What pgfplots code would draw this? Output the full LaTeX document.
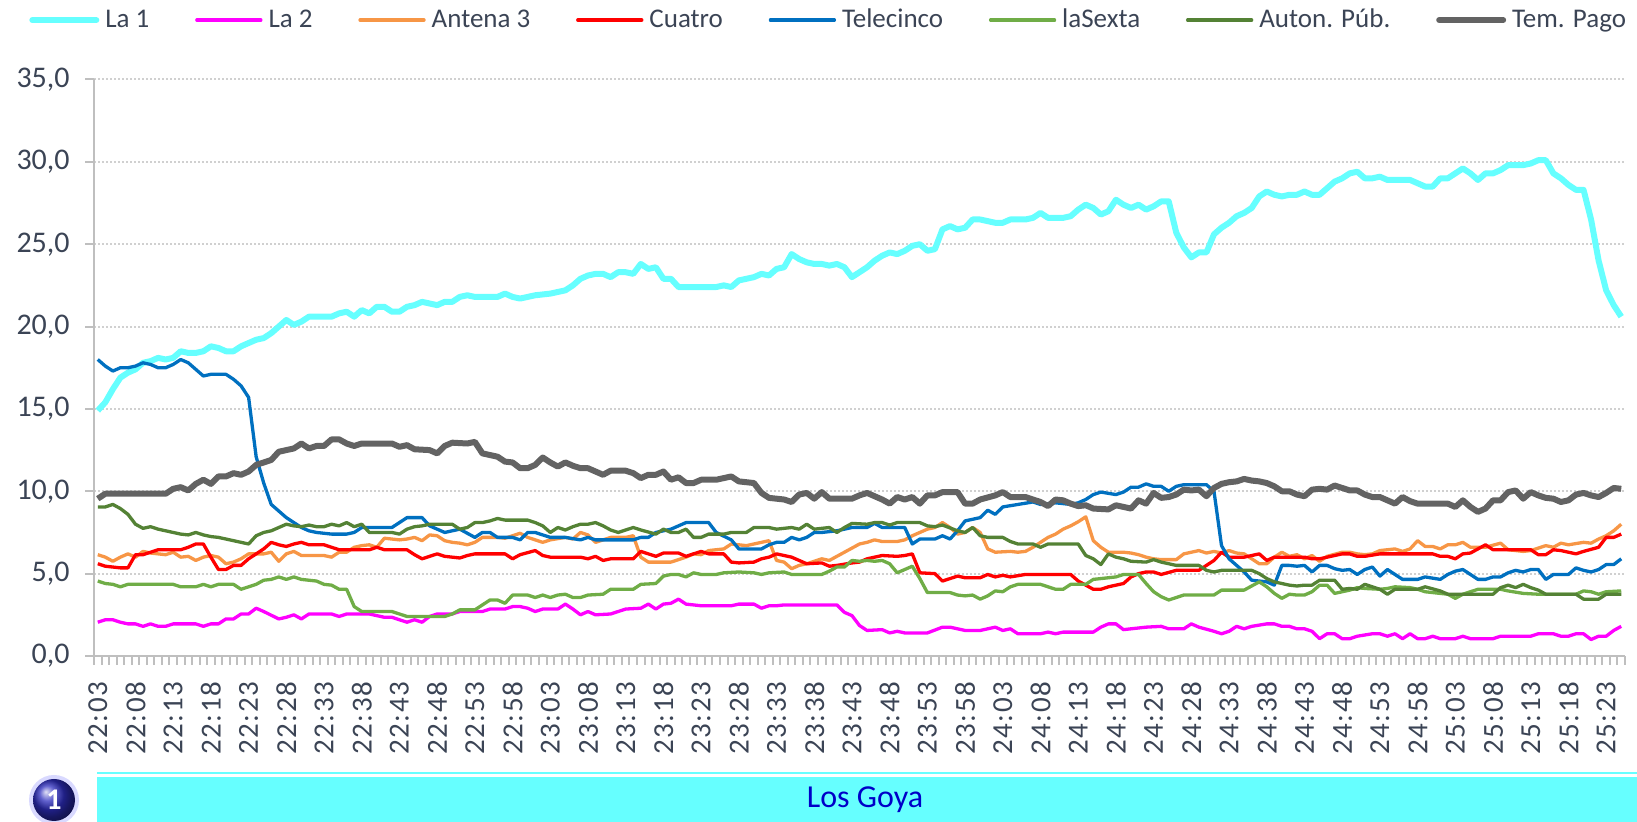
\documentclass[border=0pt]{standalone}
\usepackage{fontspec}
\setmainfont{Carlito}
\usepackage{pgfplots}
\pgfplotsset{compat=1.18}
\definecolor{txt}{HTML}{3B4455}
\definecolor{cLaA}{HTML}{66FFFF}
\definecolor{cLaB}{HTML}{FF00FF}
\definecolor{cAnt}{HTML}{F79646}
\definecolor{cCua}{HTML}{FF0000}
\definecolor{cTel}{HTML}{0070C0}
\definecolor{cSex}{HTML}{70AD47}
\definecolor{cAut}{HTML}{548235}
\definecolor{cPag}{HTML}{636363}
\definecolor{axgray}{HTML}{BFBFBF}
\definecolor{gridgray}{HTML}{D0D0D0}
\begin{document}
\begin{tikzpicture}[x=1pt,y=1pt]
\useasboundingbox (0,0) rectangle (818.5,411);
\begin{axis}[
  at={(47pt,83pt)}, anchor=south west,
  scale only axis, width=765.5pt, height=288.25pt,
  xmin=-0.5, xmax=202.5, ymin=0, ymax=35,
  axis x line*=bottom, axis y line*=left,
  axis line style={draw=axgray, line width=1pt},
  xtick={0,5,...,200},
  xticklabels={22:03,22:08,22:13,22:18,22:23,22:28,22:33,22:38,22:43,22:48,22:53,22:58,23:03,23:08,23:13,23:18,23:23,23:28,23:33,23:38,23:43,23:48,23:53,23:58,24:03,24:08,24:13,24:18,24:23,24:28,24:33,24:38,24:43,24:48,24:53,24:58,25:03,25:08,25:13,25:18,25:23},
  minor xtick={-0.5,0.5,...,202.5},
  major x tick style={draw=none},
  tick align=outside,
  major tick length=4.5pt, minor tick length=4.5pt,
  tick style={draw=axgray, line width=1pt},
  ytick={0,5,...,35},
  ymajorgrids,
  grid style={draw=gridgray, dash pattern=on 1pt off 1pt, line width=1pt},
  /pgf/number format/.cd, fixed, fixed zerofill, precision=1, use comma, assume math mode=true,
  /pgfplots/.cd,
  ticklabel style={font=\fontsize{15}{17}\selectfont, text=txt},
  xticklabel style={yshift=-8pt, rotate=90, anchor=east, inner sep=0pt, font=\fontsize{14.5}{17}\selectfont\addfontfeatures{LetterSpace=6}},
  yticklabel style={anchor=east, inner sep=0pt, xshift=-7.5pt},
  legend style={at={(-0.0425,1.103)}, anchor=west, draw=none, fill=none, inner sep=0pt,
    legend columns=-1, font=\fontsize{13.5}{16}\selectfont, text=txt,
    nodes={inner sep=1pt},
    /tikz/every odd column/.append style={column sep=2pt},
    /tikz/every even column/.append style={column sep=21.9pt}},
  legend cell align=left,
  legend image code/.code={\draw[#1, line cap=round] (0pt,0pt) -- (32pt,0pt);},
  every axis plot/.append style={no markers, line join=round, line width=1.65pt},
]
\addplot[cLaA, line width=3pt] coordinates {(0,14.9)(1,15.4)(2,16.2)(3,16.9)(4,17.2)(5,17.4)(6,17.8)(7,17.9)(8,18.1)(9,18.0)(10,18.1)(11,18.5)(12,18.4)(13,18.4)(14,18.5)(15,18.8)(16,18.7)(17,18.5)(18,18.5)(19,18.8)(20,19.0)(21,19.2)(22,19.3)(23,19.6)(24,20.0)(25,20.4)(26,20.1)(27,20.3)(28,20.6)(31,20.6)(32,20.8)(33,20.9)(34,20.6)(35,21.0)(36,20.8)(37,21.2)(38,21.2)(39,20.9)(40,20.9)(41,21.2)(42,21.3)(43,21.5)(44,21.4)(45,21.3)(46,21.5)(47,21.5)(48,21.8)(49,21.9)(50,21.8)(53,21.8)(54,22.0)(55,21.8)(56,21.7)(58,21.9)(60,22.0)(61,22.1)(62,22.2)(63,22.5)(64,22.9)(65,23.1)(66,23.2)(67,23.2)(68,23.0)(69,23.3)(70,23.3)(71,23.2)(72,23.8)(73,23.5)(74,23.6)(75,22.9)(76,22.9)(77,22.4)(82,22.4)(83,22.5)(84,22.4)(85,22.8)(86,22.9)(87,23.0)(88,23.2)(89,23.1)(90,23.5)(91,23.6)(92,24.4)(93,24.1)(94,23.9)(95,23.8)(96,23.8)(97,23.7)(98,23.8)(99,23.6)(100,23.0)(101,23.3)(102,23.6)(103,24.0)(104,24.3)(105,24.5)(106,24.4)(107,24.6)(108,24.9)(109,25.0)(110,24.6)(111,24.7)(112,25.9)(113,26.1)(114,25.9)(115,26.0)(116,26.5)(117,26.5)(118,26.4)(119,26.3)(120,26.3)(121,26.5)(123,26.5)(124,26.6)(125,26.9)(126,26.6)(128,26.6)(129,26.7)(130,27.1)(131,27.4)(132,27.2)(133,26.8)(134,27.0)(135,27.7)(136,27.4)(137,27.2)(138,27.4)(139,27.1)(140,27.3)(141,27.6)(142,27.6)(143,25.7)(144,24.8)(145,24.2)(146,24.5)(147,24.5)(148,25.6)(149,26.0)(150,26.3)(151,26.7)(152,26.9)(153,27.2)(154,27.9)(155,28.2)(156,28.0)(157,27.9)(158,28.0)(159,28.0)(160,28.2)(161,28.0)(162,28.0)(163,28.4)(164,28.8)(165,29.0)(166,29.3)(167,29.4)(168,29.0)(169,29.0)(170,29.1)(171,28.9)(174,28.9)(175,28.7)(176,28.5)(177,28.5)(178,29.0)(179,29.0)(180,29.3)(181,29.6)(182,29.3)(183,28.9)(184,29.3)(185,29.3)(186,29.5)(187,29.8)(189,29.8)(190,29.9)(191,30.1)(192,30.1)(193,29.3)(194,29.0)(195,28.6)(196,28.3)(197,28.3)(198,26.5)(199,24.0)(200,22.2)(201,21.3)(202,20.6)};
\addlegendentry{La 1}
\addplot[cLaB] coordinates {(0,2.05)(1,2.2)(2,2.2)(3,2.05)(4,1.95)(5,1.95)(6,1.8)(7,1.95)(8,1.8)(9,1.8)(10,1.95)(13,1.95)(14,1.8)(15,1.95)(16,1.95)(17,2.25)(18,2.25)(19,2.55)(20,2.55)(21,2.9)(22,2.7)(24,2.25)(25,2.35)(26,2.5)(27,2.25)(28,2.55)(31,2.55)(32,2.4)(33,2.55)(36,2.55)(38,2.35)(39,2.35)(41,2.05)(42,2.2)(43,2.05)(44,2.4)(45,2.55)(47,2.55)(48,2.7)(51,2.7)(52,2.85)(54,2.85)(55,3.0)(56,3.0)(57,2.9)(58,2.7)(59,2.85)(61,2.85)(62,3.15)(63,2.85)(64,2.5)(65,2.7)(66,2.5)(68,2.55)(69,2.7)(70,2.85)(72,2.9)(73,3.15)(74,2.85)(75,3.15)(76,3.2)(77,3.45)(78,3.15)(80,3.05)(84,3.05)(85,3.15)(87,3.15)(88,2.9)(89,3.05)(90,3.05)(91,3.1)(98,3.1)(99,2.65)(100,2.45)(101,1.85)(102,1.55)(104,1.6)(105,1.4)(106,1.5)(107,1.4)(110,1.4)(112,1.75)(113,1.75)(115,1.55)(117,1.55)(119,1.75)(120,1.55)(121,1.65)(122,1.35)(125,1.35)(126,1.45)(127,1.35)(128,1.45)(132,1.45)(133,1.75)(134,1.95)(135,1.95)(136,1.6)(138,1.7)(139,1.75)(141,1.8)(142,1.65)(144,1.65)(145,1.95)(146,1.75)(148,1.5)(149,1.35)(150,1.5)(151,1.8)(152,1.65)(153,1.8)(155,1.95)(156,1.95)(157,1.8)(158,1.8)(159,1.65)(160,1.65)(161,1.5)(162,1.05)(163,1.35)(164,1.35)(165,1.05)(166,1.05)(167,1.2)(169,1.35)(170,1.35)(171,1.2)(172,1.35)(173,1.05)(174,1.35)(175,1.05)(176,1.05)(177,1.2)(178,1.05)(180,1.05)(181,1.2)(182,1.05)(185,1.05)(186,1.2)(190,1.2)(191,1.35)(193,1.35)(194,1.2)(195,1.2)(196,1.35)(197,1.35)(198,1.0)(199,1.2)(200,1.2)(201,1.55)(202,1.8)};
\addlegendentry{La 2}
\addplot[cAnt] coordinates {(0,6.15)(1,6.0)(2,5.75)(3,6.0)(4,6.2)(5,6.0)(6,6.35)(7,6.25)(9,6.15)(10,6.3)(11,6.0)(12,6.05)(13,5.8)(14,6.0)(15,6.1)(16,6.0)(17,5.6)(18,5.7)(19,5.9)(20,6.2)(22,6.2)(23,6.3)(24,5.75)(25,6.2)(26,6.35)(27,6.1)(30,6.1)(31,6.0)(32,6.3)(33,6.3)(34,6.6)(35,6.7)(36,6.75)(37,6.6)(38,7.15)(40,7.05)(41,7.1)(42,7.2)(43,7.0)(44,7.35)(45,7.3)(46,7.0)(47,6.9)(48,6.85)(49,6.75)(50,6.9)(51,7.2)(53,7.2)(54,7.15)(55,7.3)(56,7.45)(57,7.2)(58,7.05)(59,6.9)(60,7.05)(62,7.2)(63,7.1)(64,7.5)(65,7.35)(66,6.9)(68,7.2)(70,7.2)(71,7.3)(72,6.0)(73,5.7)(76,5.7)(78,6.0)(79,6.2)(80,6.15)(81,6.4)(83,6.5)(84,6.8)(86,6.7)(87,6.8)(88,6.9)(89,7.0)(90,5.8)(91,5.7)(92,5.3)(93,5.5)(94,5.6)(96,5.9)(97,5.8)(98,6.05)(99,6.3)(100,6.55)(101,6.8)(102,6.9)(103,7.05)(104,6.95)(106,6.95)(107,7.05)(108,7.3)(109,7.5)(110,7.7)(111,7.8)(112,8.1)(113,7.8)(114,7.4)(115,7.5)(116,7.8)(117,7.5)(118,6.5)(119,6.3)(121,6.35)(122,6.3)(123,6.35)(124,6.6)(125,6.9)(126,7.2)(127,7.4)(128,7.7)(129,7.9)(130,8.15)(131,8.45)(132,7.0)(133,6.6)(134,6.3)(136,6.3)(137,6.25)(138,6.15)(139,6.0)(140,5.9)(141,5.85)(143,5.85)(144,6.2)(146,6.4)(147,6.25)(148,6.35)(149,6.25)(150,6.4)(151,6.25)(152,6.2)(153,5.9)(154,5.6)(155,5.6)(156,6.0)(157,6.3)(158,6.05)(159,6.15)(160,5.9)(161,6.1)(162,5.75)(163,6.05)(165,6.3)(166,6.3)(167,6.2)(168,6.15)(169,6.2)(170,6.4)(172,6.5)(173,6.35)(174,6.5)(175,7.0)(176,6.65)(177,6.65)(178,6.5)(179,6.75)(180,6.75)(181,6.9)(182,6.6)(184,6.6)(186,6.85)(187,6.45)(189,6.35)(190,6.4)(192,6.7)(193,6.6)(194,6.85)(195,6.75)(197,6.9)(198,6.85)(199,7.1)(200,7.3)(201,7.6)(202,8.0)};
\addlegendentry{Antena 3}
\addplot[cCua] coordinates {(0,5.6)(1,5.45)(2,5.4)(3,5.35)(4,5.35)(5,6.15)(6,6.15)(7,6.3)(8,6.45)(11,6.45)(12,6.6)(13,6.8)(14,6.8)(15,6.0)(16,5.25)(17,5.25)(18,5.5)(19,5.5)(20,5.9)(21,6.2)(22,6.5)(23,6.9)(24,6.75)(25,6.65)(26,6.8)(27,6.9)(28,6.75)(30,6.75)(31,6.6)(32,6.45)(36,6.45)(37,6.6)(38,6.45)(41,6.45)(42,6.15)(43,5.9)(45,6.2)(46,6.05)(48,5.95)(49,6.1)(50,6.2)(54,6.2)(55,5.9)(56,6.15)(58,6.4)(59,6.1)(60,6.0)(64,6.0)(65,5.9)(66,6.05)(67,5.8)(68,5.9)(71,5.9)(72,6.35)(73,6.2)(74,6.05)(75,6.25)(77,6.25)(78,6.05)(79,6.2)(80,6.35)(81,6.2)(83,6.2)(84,5.7)(85,5.65)(87,5.7)(88,5.9)(89,6.0)(90,6.2)(92,6.0)(93,5.8)(94,5.6)(96,5.65)(97,5.45)(98,5.5)(100,5.65)(101,5.7)(102,5.9)(103,6.0)(104,6.1)(106,6.05)(107,6.1)(108,6.2)(109,5.05)(111,5.0)(112,4.55)(113,4.7)(114,4.85)(115,4.75)(117,4.75)(118,4.95)(119,4.8)(120,4.9)(121,4.8)(123,4.95)(129,4.95)(130,4.55)(131,4.3)(132,4.05)(133,4.05)(134,4.2)(135,4.3)(136,4.4)(137,4.8)(138,5.0)(139,5.1)(140,5.1)(141,4.95)(143,5.2)(146,5.2)(147,5.5)(148,5.8)(149,6.3)(150,6.0)(152,6.0)(153,6.1)(154,6.2)(155,5.8)(156,6.0)(160,6.0)(161,5.9)(162,5.9)(163,6.0)(164,6.1)(165,6.2)(166,6.2)(167,6.05)(168,6.05)(170,6.2)(177,6.2)(178,6.05)(179,6.05)(180,5.9)(181,6.2)(182,6.25)(184,6.75)(185,6.45)(190,6.45)(191,6.15)(192,6.15)(193,6.45)(194,6.4)(196,6.2)(197,6.35)(199,6.6)(200,7.2)(201,7.2)(202,7.4)};
\addlegendentry{Cuatro}
\addplot[cTel] coordinates {(0,18.0)(1,17.6)(2,17.3)(3,17.5)(4,17.5)(5,17.6)(6,17.8)(7,17.7)(8,17.5)(9,17.5)(10,17.7)(11,18.0)(12,17.8)(13,17.4)(14,17.0)(15,17.1)(17,17.1)(18,16.8)(19,16.4)(20,15.7)(21,12.1)(22,10.5)(23,9.2)(24,8.8)(25,8.4)(26,8.1)(27,7.8)(28,7.6)(29,7.5)(31,7.4)(33,7.4)(34,7.5)(35,7.8)(39,7.8)(41,8.4)(43,8.4)(44,7.9)(45,7.7)(46,7.5)(47,7.6)(48,7.7)(50,7.2)(51,7.5)(52,7.5)(53,7.2)(55,7.2)(56,7.05)(57,7.5)(58,7.5)(60,7.2)(62,7.2)(64,7.05)(65,7.2)(66,7.05)(71,7.05)(72,7.2)(73,7.2)(74,7.5)(76,7.7)(78,8.1)(81,8.1)(82,7.5)(84,7.05)(85,6.5)(88,6.5)(89,6.75)(90,6.9)(91,6.9)(92,7.2)(93,7.05)(94,7.2)(95,7.5)(96,7.5)(98,7.6)(100,7.8)(102,7.8)(103,8.05)(104,7.8)(107,7.8)(108,6.8)(109,7.1)(111,7.1)(112,7.3)(113,7.1)(114,7.6)(115,8.2)(117,8.4)(118,8.85)(119,8.6)(120,9.05)(122,9.2)(124,9.35)(125,9.2)(127,9.3)(129,9.2)(130,9.3)(131,9.5)(132,9.8)(133,9.95)(135,9.8)(136,9.95)(137,10.25)(138,10.25)(139,10.45)(140,10.3)(141,10.3)(142,10.0)(143,10.3)(144,10.4)(145,10.4)(147,10.4)(148,10.0)(149,6.7)(150,5.9)(151,5.5)(152,5.1)(153,4.6)(155,4.5)(156,4.3)(157,5.5)(158,5.5)(159,5.45)(160,5.5)(161,5.1)(162,5.5)(163,5.5)(164,5.3)(165,5.2)(166,5.25)(167,4.95)(168,5.25)(169,5.4)(170,4.85)(171,5.25)(172,4.95)(173,4.65)(175,4.65)(176,4.8)(178,4.65)(179,4.95)(180,5.15)(181,5.25)(182,4.95)(183,4.65)(184,4.65)(185,4.8)(186,4.8)(187,5.05)(188,5.2)(189,5.1)(190,5.25)(191,5.25)(192,4.65)(193,4.95)(195,4.95)(196,5.35)(197,5.2)(198,5.1)(199,5.25)(200,5.55)(201,5.55)(202,5.9)};
\addlegendentry{Telecinco}
\addplot[cSex] coordinates {(0,4.55)(1,4.4)(2,4.35)(3,4.2)(4,4.35)(10,4.35)(11,4.2)(13,4.2)(14,4.35)(15,4.2)(16,4.35)(18,4.35)(19,4.05)(20,4.2)(21,4.35)(22,4.6)(23,4.65)(24,4.8)(25,4.65)(26,4.8)(27,4.65)(29,4.55)(30,4.35)(31,4.3)(32,4.05)(33,4.05)(34,3.0)(35,2.7)(39,2.7)(40,2.55)(41,2.4)(46,2.4)(47,2.55)(48,2.8)(50,2.8)(51,3.1)(52,3.4)(53,3.4)(54,3.2)(55,3.7)(57,3.7)(58,3.55)(59,3.7)(60,3.55)(61,3.7)(62,3.75)(63,3.55)(64,3.55)(65,3.7)(67,3.75)(68,4.05)(71,4.05)(72,4.35)(74,4.4)(75,4.85)(76,4.95)(77,4.95)(78,4.8)(79,5.05)(80,4.95)(82,4.95)(83,5.05)(85,5.1)(87,5.05)(88,4.95)(89,5.05)(91,5.1)(92,4.95)(96,4.95)(97,5.15)(98,5.4)(99,5.4)(100,5.8)(101,5.75)(102,5.8)(103,5.75)(104,5.8)(105,5.6)(106,5.05)(107,5.25)(108,5.45)(109,4.7)(110,3.85)(113,3.85)(114,3.7)(115,3.65)(116,3.7)(117,3.45)(118,3.65)(119,3.95)(120,3.9)(121,4.2)(122,4.35)(125,4.35)(126,4.2)(127,4.05)(128,4.05)(129,4.35)(131,4.35)(132,4.65)(135,4.8)(136,4.95)(138,4.95)(139,4.4)(140,3.9)(141,3.6)(142,3.4)(143,3.55)(144,3.7)(148,3.7)(149,4.0)(152,4.0)(153,4.25)(154,4.5)(155,4.2)(156,3.8)(157,3.5)(158,3.75)(159,3.7)(160,3.7)(161,3.9)(162,4.3)(163,4.3)(164,3.8)(165,3.9)(166,4.0)(167,4.15)(168,4.1)(170,4.05)(171,4.1)(172,4.2)(174,4.15)(175,4.05)(176,3.9)(178,3.8)(179,3.75)(180,3.5)(181,3.75)(182,3.9)(183,4.05)(186,4.05)(187,3.95)(189,3.8)(191,3.75)(196,3.75)(197,3.95)(198,3.9)(199,3.75)(200,3.9)(202,3.95)};
\addlegendentry{laSexta}
\addplot[cAut] coordinates {(0,9.05)(1,9.05)(2,9.2)(3,8.95)(4,8.6)(5,8.0)(6,7.75)(7,7.85)(8,7.7)(9,7.6)(10,7.5)(11,7.4)(12,7.35)(13,7.5)(14,7.35)(15,7.25)(16,7.2)(17,7.1)(18,7.0)(19,6.9)(20,6.8)(21,7.3)(22,7.5)(23,7.6)(24,7.8)(25,8.0)(26,7.9)(27,7.85)(28,7.95)(29,7.85)(30,7.85)(31,8.0)(32,7.9)(33,8.1)(34,7.85)(35,8.0)(36,7.5)(39,7.5)(40,7.4)(41,7.7)(42,7.85)(43,7.9)(44,8.0)(47,8.0)(48,7.7)(49,7.8)(50,8.1)(51,8.1)(52,8.2)(53,8.35)(54,8.25)(57,8.25)(58,8.1)(59,7.9)(60,7.5)(61,7.8)(62,7.65)(63,7.85)(64,8.0)(65,8.0)(66,8.1)(67,7.9)(68,7.65)(69,7.5)(70,7.65)(71,7.8)(72,7.65)(74,7.4)(75,7.7)(76,7.5)(77,7.5)(78,7.7)(79,7.2)(80,7.2)(81,7.4)(83,7.4)(84,7.5)(86,7.5)(87,7.8)(89,7.8)(90,7.7)(92,7.8)(93,7.7)(94,8.0)(95,7.7)(96,7.75)(97,7.8)(98,7.5)(99,7.8)(100,8.05)(102,8.0)(103,8.1)(104,8.1)(105,7.95)(106,8.1)(108,8.1)(109,8.1)(110,7.9)(111,7.85)(112,7.95)(114,7.6)(115,7.5)(116,7.8)(117,7.3)(118,7.2)(120,7.2)(121,6.95)(122,6.8)(124,6.8)(125,6.6)(126,6.8)(130,6.8)(131,6.1)(132,5.9)(133,5.55)(134,6.2)(135,6.0)(136,5.9)(137,5.75)(139,5.7)(140,5.85)(141,5.7)(142,5.6)(143,5.5)(146,5.5)(147,5.2)(148,5.1)(149,5.2)(150,5.2)(153,5.2)(154,5.0)(155,4.7)(156,4.5)(157,4.4)(158,4.3)(159,4.25)(160,4.3)(161,4.3)(162,4.6)(164,4.6)(165,4.05)(166,4.1)(167,4.05)(168,4.35)(169,4.2)(170,4.05)(171,3.75)(172,4.05)(175,4.05)(176,4.2)(178,3.95)(179,3.75)(185,3.75)(186,4.15)(187,4.3)(188,4.15)(189,4.35)(190,4.15)(191,4.0)(192,3.75)(196,3.75)(197,3.45)(199,3.45)(200,3.75)(202,3.75)};
\addlegendentry{Auton. Púb.}
\addplot[cPag, line width=3pt] coordinates {(0,9.55)(1,9.85)(9,9.85)(10,10.15)(11,10.25)(12,10.05)(13,10.45)(14,10.7)(15,10.45)(16,10.9)(17,10.9)(18,11.1)(19,11.0)(20,11.2)(21,11.6)(23,11.9)(24,12.4)(26,12.6)(27,12.9)(28,12.6)(29,12.75)(30,12.75)(31,13.15)(32,13.15)(33,12.9)(34,12.75)(35,12.9)(39,12.9)(40,12.7)(41,12.8)(42,12.55)(44,12.5)(45,12.3)(46,12.75)(47,12.95)(49,12.9)(50,13.0)(51,12.3)(53,12.1)(54,11.8)(55,11.75)(56,11.4)(57,11.4)(58,11.6)(59,12.05)(60,11.75)(61,11.5)(62,11.75)(63,11.55)(64,11.4)(65,11.4)(66,11.2)(67,11.0)(68,11.25)(70,11.25)(71,11.1)(72,10.8)(73,11.0)(74,11.0)(75,11.2)(76,10.7)(77,10.85)(78,10.5)(79,10.5)(80,10.7)(82,10.7)(84,10.9)(85,10.6)(87,10.5)(88,9.9)(89,9.6)(90,9.55)(91,9.5)(92,9.35)(93,9.8)(94,9.9)(95,9.55)(96,9.95)(97,9.55)(100,9.55)(101,9.75)(102,9.9)(104,9.5)(105,9.25)(106,9.65)(107,9.5)(108,9.65)(109,9.25)(110,9.75)(111,9.75)(112,9.95)(114,9.95)(115,9.25)(116,9.25)(117,9.5)(119,9.75)(120,9.95)(121,9.65)(123,9.65)(125,9.35)(126,9.1)(127,9.5)(128,9.45)(129,9.25)(130,9.1)(131,9.15)(132,8.95)(134,8.9)(135,9.15)(137,8.95)(138,9.45)(139,9.25)(140,9.9)(141,9.6)(142,9.65)(143,9.8)(144,10.1)(145,10.05)(146,10.1)(147,9.7)(148,10.2)(149,10.45)(150,10.55)(151,10.6)(152,10.75)(153,10.65)(154,10.6)(155,10.5)(156,10.3)(157,10.0)(158,10.0)(159,9.8)(160,9.7)(161,10.1)(162,10.15)(163,10.1)(164,10.35)(165,10.2)(166,10.05)(167,10.05)(168,9.8)(169,9.65)(170,9.65)(171,9.45)(172,9.25)(173,9.65)(174,9.4)(175,9.25)(179,9.25)(180,9.05)(181,9.45)(182,9.05)(183,8.75)(184,8.95)(185,9.45)(186,9.45)(187,9.95)(188,10.05)(189,9.55)(190,9.95)(191,9.75)(192,9.6)(193,9.55)(194,9.35)(195,9.45)(196,9.8)(197,9.9)(198,9.75)(199,9.65)(200,9.9)(201,10.2)(202,10.15)};
\addlegendentry{Tem. Pago}
\end{axis}
% bottom banner
\fill[cLaA] (48.5,0) rectangle (818.5,22.5);
\draw[cLaA, line width=0.6pt] (48.5,24.5) -- (818.5,24.5);
\node[text={rgb,255:red,0;green,0;blue,200}, font=\fontsize{16}{19}\selectfont] at (432.5,11) {Los Goya};
\fill[blue!25, opacity=0.6] (27,11) circle (12.5);
\shade[ball color={rgb,255:red,45;green,45;blue,190}] (27,11) circle (10.5);
\node[text=white, font=\fontsize{15}{18}\selectfont\bfseries] at (27,11) {1};
\end{tikzpicture}
\end{document}
